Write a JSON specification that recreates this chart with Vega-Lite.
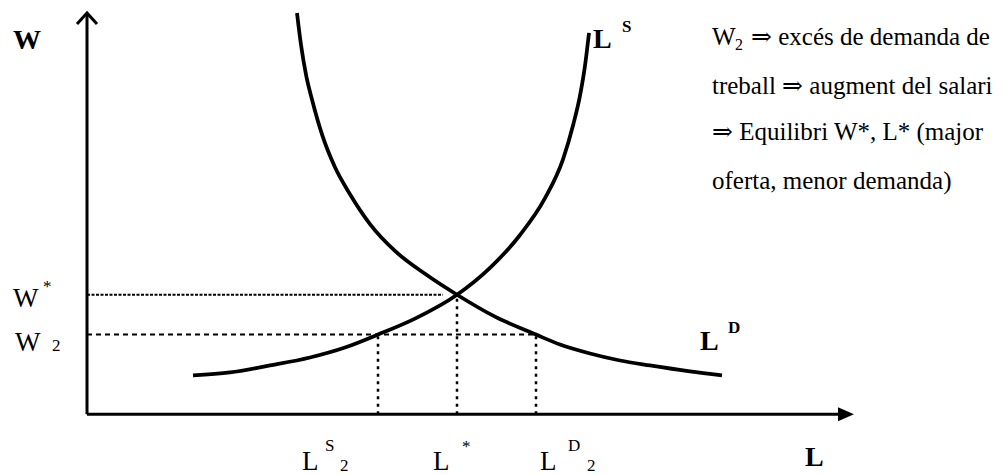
{
  "$schema": "https://vega.github.io/schema/vega-lite/v6.json",
  "autosize": {"type": "fit", "contains": "padding"},
  "width": 1007,
  "height": 475,
  "padding": 0,
  "background": "white",
  "config": {"view": {"stroke": null}},
  "datasets": {
    "curves": [
      {"curve": "LS", "i": 0, "L": 13.25, "W": 9.75},
      {"curve": "LS", "i": 1, "L": 17.875, "W": 10.5},
      {"curve": "LS", "i": 2, "L": 22.875, "W": 12.25},
      {"curve": "LS", "i": 3, "L": 27.875, "W": 14.25},
      {"curve": "LS", "i": 4, "L": 32.25, "W": 16.75},
      {"curve": "LS", "i": 5, "L": 36.375, "W": 20},
      {"curve": "LS", "i": 6, "L": 41, "W": 24},
      {"curve": "LS", "i": 7, "L": 46.25, "W": 30},
      {"curve": "LS", "i": 8, "L": 50.375, "W": 36.75},
      {"curve": "LS", "i": 9, "L": 54.125, "W": 45},
      {"curve": "LS", "i": 10, "L": 57.25, "W": 54.25},
      {"curve": "LS", "i": 11, "L": 59.5, "W": 64},
      {"curve": "LS", "i": 12, "L": 60.75, "W": 72.5},
      {"curve": "LS", "i": 13, "L": 61.625, "W": 80},
      {"curve": "LS", "i": 14, "L": 62.25, "W": 87.5},
      {"curve": "LS", "i": 15, "L": 62.75, "W": 95.75},
      {"curve": "LD", "i": 0, "L": 26.25, "W": 100.75},
      {"curve": "LD", "i": 1, "L": 26.75, "W": 92.75},
      {"curve": "LD", "i": 2, "L": 27.375, "W": 85.25},
      {"curve": "LD", "i": 3, "L": 28.125, "W": 79},
      {"curve": "LD", "i": 4, "L": 29.375, "W": 70.25},
      {"curve": "LD", "i": 5, "L": 31, "W": 62},
      {"curve": "LD", "i": 6, "L": 32.875, "W": 55.25},
      {"curve": "LD", "i": 7, "L": 35.375, "W": 47.75},
      {"curve": "LD", "i": 8, "L": 38.5, "W": 41},
      {"curve": "LD", "i": 9, "L": 42.25, "W": 35.25},
      {"curve": "LD", "i": 10, "L": 46.25, "W": 30},
      {"curve": "LD", "i": 11, "L": 51, "W": 24.5},
      {"curve": "LD", "i": 12, "L": 56.125, "W": 20},
      {"curve": "LD", "i": 13, "L": 59.125, "W": 17.5},
      {"curve": "LD", "i": 14, "L": 62.875, "W": 15.25},
      {"curve": "LD", "i": 15, "L": 66.625, "W": 13.5},
      {"curve": "LD", "i": 16, "L": 70.375, "W": 12.25},
      {"curve": "LD", "i": 17, "L": 75.375, "W": 10.75},
      {"curve": "LD", "i": 18, "L": 79.375, "W": 9.75}
    ],
    "axes": [
      {"part": "yaxis", "i": 0, "L": 0, "W": 0},
      {"part": "yaxis", "i": 1, "L": 0, "W": 100.5},
      {"part": "yarrow", "i": 0, "L": -1.25, "W": 98},
      {"part": "yarrow", "i": 1, "L": 0, "W": 100.75},
      {"part": "yarrow", "i": 2, "L": 1.25, "W": 98},
      {"part": "xaxis", "i": 0, "L": 0, "W": 0},
      {"part": "xaxis", "i": 1, "L": 94, "W": 0}
    ],
    "heads": [
      {"part": "xarrow", "L": 94.875, "W": 0}
    ],
    "guides": [
      {"kind": "wstar", "L": 0, "W": 30, "L2": 44.5, "W2": 30},
      {"kind": "w2", "L": 0, "W": 20, "L2": 56.125, "W2": 20},
      {"kind": "vert", "L": 36.375, "W": 0, "L2": 36.375, "W2": 20},
      {"kind": "vert", "L": 46.25, "W": 0, "L2": 46.25, "W2": 30},
      {"kind": "vert", "L": 56.125, "W": 0, "L2": 56.125, "W2": 20}
    ],
    "labels": [
      {"role": "bold", "text": "W", "L": -9.25, "W": 91.75},
      {"role": "bold", "text": "L", "L": 89.75, "W": -13},
      {"role": "bold", "text": "L", "L": 63.25, "W": 92},
      {"role": "boldsup", "text": "S", "L": 66.875, "W": 96},
      {"role": "bold", "text": "L", "L": 76.625, "W": 16.25},
      {"role": "boldsup", "text": "D", "L": 80.125, "W": 20.5},
      {"role": "label", "text": "W", "L": -9.25, "W": 27},
      {"role": "sup", "text": "*", "L": -5.5, "W": 30.75},
      {"role": "label", "text": "W", "L": -9, "W": 16},
      {"role": "sup", "text": "2", "L": -4.375, "W": 16},
      {"role": "label", "text": "L", "L": 26.875, "W": -14},
      {"role": "sup", "text": "S", "L": 29.75, "W": -9.25},
      {"role": "sup", "text": "2", "L": 31.625, "W": -14.25},
      {"role": "label", "text": "L", "L": 43.25, "W": -14},
      {"role": "sup", "text": "*", "L": 46.875, "W": -9.4},
      {"role": "label", "text": "L", "L": 56.625, "W": -14},
      {"role": "sup", "text": "D", "L": 60.125, "W": -9.25},
      {"role": "sup", "text": "2", "L": 62.5, "W": -14.25},
      {"role": "note", "text": "W", "L": 78.125, "W": 92.75},
      {"role": "notesub", "text": "2", "L": 81, "W": 91.5},
      {"role": "note", "text": "⇒  excés de demanda de", "L": 83, "W": 92.75},
      {"role": "note", "text": "treball ⇒  augment del salari", "L": 78.125, "W": 80.5},
      {"role": "note", "text": "⇒  Equilibri W*, L* (major", "L": 78.125, "W": 68.75},
      {"role": "note", "text": "oferta, menor demanda)", "L": 78.125, "W": 56.5}
    ]
  },
  "encoding": {
    "x": {"field": "L", "type": "quantitative", "scale": {"domain": [-10.875, 115], "nice": false, "zero": false}, "axis": null},
    "y": {"field": "W", "type": "quantitative", "scale": {"domain": [-14.75, 104], "nice": false, "zero": false}, "axis": null}
  },
  "layer": [
    {
      "data": {"name": "guides"},
      "transform": [{"filter": "datum.kind === 'wstar'"}],
      "mark": {"type": "rule", "color": "black", "strokeWidth": 2, "strokeDash": [3, 1.5]},
      "encoding": {"x2": {"field": "L2"}, "y2": {"field": "W2"}}
    },
    {
      "data": {"name": "guides"},
      "transform": [{"filter": "datum.kind === 'w2'"}],
      "mark": {"type": "rule", "color": "black", "strokeWidth": 2, "strokeDash": [5, 4]},
      "encoding": {"x2": {"field": "L2"}, "y2": {"field": "W2"}}
    },
    {
      "data": {"name": "guides"},
      "transform": [{"filter": "datum.kind === 'vert'"}],
      "mark": {"type": "rule", "color": "black", "strokeWidth": 2.5, "strokeDash": [3, 4.5]},
      "encoding": {"x2": {"field": "L2"}, "y2": {"field": "W2"}}
    },
    {
      "data": {"name": "axes"},
      "mark": {"type": "line", "color": "black", "strokeWidth": 3, "strokeCap": "butt", "strokeJoin": "miter"},
      "encoding": {"detail": {"field": "part"}, "order": {"field": "i"}}
    },
    {
      "data": {"name": "heads"},
      "mark": {"type": "point", "shape": "M-1,-0.875L1,0L-1,0.875Z", "filled": true, "color": "black", "opacity": 1, "size": 256, "strokeWidth": 0}
    },
    {
      "data": {"name": "curves"},
      "mark": {"type": "line", "color": "black", "strokeWidth": 3.75, "interpolate": "monotone"},
      "encoding": {"detail": {"field": "curve"}, "order": {"field": "i"}}
    },
    {
      "data": {"name": "labels"},
      "transform": [{"filter": "datum.role === 'bold'"}],
      "mark": {"type": "text", "font": "Liberation Serif, Times New Roman, DejaVu Serif, serif", "fontWeight": "bold", "fontSize": 28, "align": "left", "baseline": "alphabetic", "color": "black"},
      "encoding": {"text": {"field": "text"}}
    },
    {
      "data": {"name": "labels"},
      "transform": [{"filter": "datum.role === 'boldsup'"}],
      "mark": {"type": "text", "font": "Liberation Serif, Times New Roman, DejaVu Serif, serif", "fontWeight": "bold", "fontSize": 17, "align": "left", "baseline": "alphabetic", "color": "black"},
      "encoding": {"text": {"field": "text"}}
    },
    {
      "data": {"name": "labels"},
      "transform": [{"filter": "datum.role === 'label'"}],
      "mark": {"type": "text", "font": "Liberation Serif, Times New Roman, DejaVu Serif, serif", "fontSize": 27, "align": "left", "baseline": "alphabetic", "color": "black"},
      "encoding": {"text": {"field": "text"}}
    },
    {
      "data": {"name": "labels"},
      "transform": [{"filter": "datum.role === 'sup'"}],
      "mark": {"type": "text", "font": "Liberation Serif, Times New Roman, DejaVu Serif, serif", "fontSize": 17, "align": "left", "baseline": "alphabetic", "color": "black"},
      "encoding": {"text": {"field": "text"}}
    },
    {
      "data": {"name": "labels"},
      "transform": [{"filter": "datum.role === 'note'"}],
      "mark": {"type": "text", "font": "Liberation Serif, Times New Roman, DejaVu Serif, serif", "fontSize": 25, "align": "left", "baseline": "alphabetic", "color": "black"},
      "encoding": {"text": {"field": "text"}}
    },
    {
      "data": {"name": "labels"},
      "transform": [{"filter": "datum.role === 'notesub'"}],
      "mark": {"type": "text", "font": "Liberation Serif, Times New Roman, DejaVu Serif, serif", "fontSize": 16, "align": "left", "baseline": "alphabetic", "color": "black"},
      "encoding": {"text": {"field": "text"}}
    }
  ]
}
